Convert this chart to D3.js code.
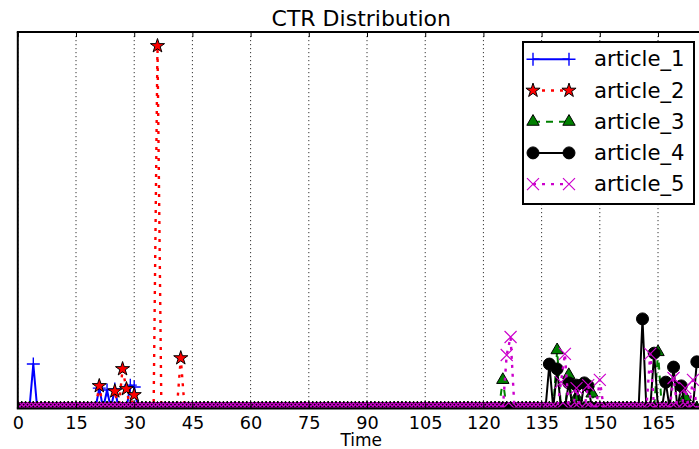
<!DOCTYPE html>
<html><head><meta charset="utf-8">
<script src="https://cdn.jsdelivr.net/npm/d3@7"></script>
<style>body{margin:0;background:#fff}svg{display:block}text{font-family:"DejaVu Sans",sans-serif;fill:#000}</style>
</head><body><svg id="c" width="699" height="449"></svg>
<script>
// ---- data ----
const times = d3.range(0, 176);            // time steps 0..175
const xTicks = [0,15,30,45,60,75,90,105,120,135,150,165];
const seriesNames = ["article_1","article_2","article_3","article_4","article_5"];
// non-zero CTR readings per article (all other time steps are 0)
const a1Times  = [4, 21, 23, 25, 29, 30];
const a1Values = [0.118, 0.054, 0.049, 0.052, 0.062, 0.057];
const a2Times  = [21, 25, 27, 28, 30, 36, 42];
const a2Values = [0.060, 0.046, 0.105, 0.052, 0.036, 0.963, 0.134];
const a3Times  = [125, 139, 142, 144, 148, 165, 172];
const a3Values = [0.076, 0.155, 0.089, 0.030, 0.040, 0.150, 0.030];
const a4Times  = [137, 139, 142, 144, 146, 147, 161, 164, 167, 169, 171, 175];
const a4Values = [0.118, 0.105, 0.068, 0.062, 0.068, 0.060, 0.238, 0.147, 0.070, 0.110, 0.060, 0.124];
const a5Times  = [126, 127, 140, 141, 144, 147, 150, 163, 169, 172, 174];
const a5Values = [0.142, 0.190, 0.070, 0.145, 0.054, 0.062, 0.076, 0.145, 0.081, 0.054, 0.076];

function fill(ts, vs){ return times.map(t => { const i = ts.indexOf(t); return i >= 0 ? vs[i] : 0; }); }
const seriesValues = [fill(a1Times,a1Values), fill(a2Times,a2Values), fill(a3Times,a3Values),
                      fill(a4Times,a4Values), fill(a5Times,a5Values)];

// ---- styles ----
const styles = [
  {color:"#0000ff", dash:null,  lw:2, marker:"plus"},
  {color:"#ff0000", dash:"3,6", lw:2.4, marker:"star"},
  {color:"#008000", dash:"7,6", lw:2, marker:"tri"},
  {color:"#000000", dash:null,  lw:2, marker:"circle"},
  {color:"#cc00cc", dash:"3,6", lw:2.4, marker:"x"}
];
function drawMarker(g, type, color){
  if(type==="plus") g.append("path").attr("d","M-6.5,0H6.5M0,-6.5V6.5").attr("stroke",color).attr("stroke-width",1.4).attr("fill","none");
  else if(type==="x") g.append("path").attr("d","M-6,-6L6,6M-6,6L6,-6").attr("stroke",color).attr("stroke-width",1.2).attr("fill","none");
  else if(type==="star") g.append("path").attr("d",d3.symbol(d3.symbolStar,62)()).attr("fill",color).attr("stroke","#000").attr("stroke-width",1);
  else if(type==="tri") g.append("path").attr("d",d3.symbol(d3.symbolTriangle,66)()).attr("fill",color).attr("stroke","#000").attr("stroke-width",1);
  else if(type==="circle") g.append("path").attr("d",d3.symbol(d3.symbolCircle,113)()).attr("fill",color).attr("stroke","#000").attr("stroke-width",1);
}

// ---- layout ----
const L = 17.8, R = 700.7, T = 32, B = 408.5;
const svg = d3.select("#c");
const x = d3.scaleLinear().domain([0,176]).range([L,R]);
const y = d3.scaleLinear().domain([0,1]).range([B,T]);

svg.append("defs").append("clipPath").attr("id","clip")
  .append("rect").attr("x",L).attr("y",T).attr("width",R-L).attr("height",B-T);

// grid
svg.append("g").selectAll("line").data(xTicks).join("line")
  .attr("x1",d=>x(d)).attr("x2",d=>x(d)).attr("y1",T).attr("y2",B)
  .attr("stroke","#000").attr("stroke-width",0.8).attr("stroke-dasharray","1.2,2.8");

// data
const plot = svg.append("g").attr("clip-path","url(#clip)");
seriesValues.forEach((vals,si)=>{
  const st = styles[si];
  const line = d3.line().x((d,i)=>x(times[i])).y(d=>y(d));
  plot.append("path").datum(vals).attr("d",line).attr("fill","none")
    .attr("stroke",st.color).attr("stroke-width",st.lw)
    .attr("stroke-dasharray",st.dash).attr("stroke-linejoin","round");
  vals.forEach((v,i)=>{
    const g = plot.append("g").attr("transform",`translate(${x(times[i])},${y(v)})`);
    drawMarker(g, st.marker, st.color);
  });
});

// axes
const bottomAxis = svg.append("g").attr("transform",`translate(0,${B})`)
  .call(d3.axisBottom(x).tickValues(xTicks).tickSize(-5).tickPadding(8));
bottomAxis.select(".domain").remove();
bottomAxis.selectAll("text").attr("font-size","17.7px").attr("font-family","DejaVu Sans");
bottomAxis.selectAll("line").attr("stroke-width",1);
const topAxis = svg.append("g").attr("transform",`translate(0,${T})`)
  .call(d3.axisTop(x).tickValues(xTicks).tickSize(-5).tickFormat(""));
topAxis.select(".domain").remove();

// spines
svg.append("line").attr("x1",L).attr("x2",L).attr("y1",T).attr("y2",B).attr("stroke","#000").attr("stroke-width",2);
svg.append("line").attr("x1",L-1).attr("x2",R).attr("y1",T).attr("y2",T).attr("stroke","#000").attr("stroke-width",2);
svg.append("line").attr("x1",L-1).attr("x2",R).attr("y1",B).attr("y2",B).attr("stroke","#000").attr("stroke-width",2);

// title & label
svg.append("text").attr("x",(L+R)/2+2).attr("y",26).attr("text-anchor","middle").attr("font-size","22px").text("CTR Distribution");
svg.append("text").attr("x",(L+R)/2+2).attr("y",446).attr("text-anchor","middle").attr("font-size","17px").text("Time");

// legend
const lg = svg.append("g");
lg.append("rect").attr("x",523).attr("y",42).attr("width",171).attr("height",162)
  .attr("fill","#fff").attr("stroke","#000").attr("stroke-width",2);
seriesNames.forEach((name,i)=>{
  const cy = 59.3 + i*31.2, st = styles[i];
  lg.append("line").attr("x1",533).attr("x2",569).attr("y1",cy).attr("y2",cy)
    .attr("stroke",st.color).attr("stroke-width",st.lw).attr("stroke-dasharray",st.dash);
  [533,569].forEach(px=>drawMarker(lg.append("g").attr("transform",`translate(${px},${cy})`), st.marker, st.color));
  lg.append("text").attr("x",594).attr("y",cy+7).attr("font-size","21.2px").text(name);
});
</script></body></html>
